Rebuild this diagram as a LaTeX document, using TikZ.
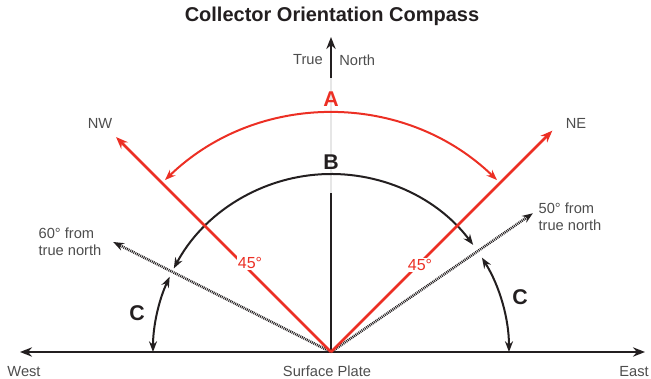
\documentclass[tikz,border=0pt]{standalone}
\usepackage{fontspec}
\setmainfont{Liberation Sans}
\usetikzlibrary{arrows.meta,positioning}
\definecolor{ink}{HTML}{231F20}
\definecolor{signal}{HTML}{EC2F24}
\definecolor{mute}{HTML}{4D4D4D}
\definecolor{rail}{HTML}{E6E6E6}

\begin{document}
\begin{tikzpicture}[x=0.75pt, y=0.75pt,
      tag/.style={font=\fontsize{11}{13}\selectfont, text=mute, inner sep=1pt, align=left},
      letter/.style={font=\fontsize{16}{18}\selectfont\bfseries, inner sep=0pt},
      axis/.style={-{Stealth[length=9pt,width=7pt]}, line width=2.2pt, color=ink},
      ray/.style={-{Stealth[length=9pt,width=7pt]}, line width=2pt, color=signal},
      hint/.style={-{Stealth[length=8pt,width=6pt]}, line width=2pt, color=ink, dash pattern=on 0.7pt off 0.7pt},
      sweep/.style={{Stealth[length=8pt,width=6pt]}-{Stealth[length=8pt,width=6pt]}, line width=1.5pt}]
    \useasboundingbox (-331,-27) rectangle (320,352);
    % base points
    \coordinate (plate) at (0,0);
    \coordinate (west) at (-311,0);
    \coordinate (east) at (314,0);
    \coordinate (zenith) at (0,159);
    \coordinate (railtop) at (0,274);
    \coordinate (north) at (0,315);
    \coordinate (needle) at (0,292);
    \coordinate (nw) at (135:304);
    \coordinate (ne) at (45:313);
    \coordinate (sixty) at (153.2:244);
    \coordinate (fifty) at (34.5:245);
    \coordinate (aR) at (46:239);
    \coordinate (bR) at (37:178);
    \coordinate (cW) at (180:178);
    \coordinate (cE) at (0:178);
    % true north
    \draw[line width=1.6pt, rail] (zenith) -- (railtop);
    \draw[line width=2.2pt, ink] (plate) -- (zenith);
    \draw[axis] (railtop) -- (north);
    \node[tag, left=5pt of needle] (truetag) {True};
    \node[tag, right=5pt of needle] (northtag) {North};
    % surface plate
    \draw[axis, {Stealth[length=9pt,width=7pt]}-{Stealth[length=9pt,width=7pt]}] (west) -- (east);
    \node[tag] (westtag) at (-307,-20) {West};
    \node[tag] (platetag) at (-4,-19) {Surface Plate};
    \node[tag] (easttag) at (303,-20) {East};
    % dotted limits
    \draw[hint] (plate) -- (sixty);
    \draw[hint] (plate) -- (fifty);
    \node[tag, anchor=west] (sixtytag) at (-294,110) {60° from\\true north};
    \node[tag, anchor=west] (fiftytag) at (206,135) {50° from\\true north};
    % arcs
    \draw[sweep, ink] (bR) arc[start angle=37, end angle=152, radius=178];
    \draw[sweep, ink] (cW) arc[start angle=180, end angle=155, radius=178];
    \draw[sweep, ink] (cE) arc[start angle=0, end angle=32, radius=178];
    \draw[sweep, signal] (aR) arc[start angle=46, end angle=134, radius=239];
    % NW / NE
    \draw[ray] (plate) -- (nw);
    \draw[ray] (plate) -- (ne);
    \node[tag] (nwtag) at (-231,229) {NW};
    \node[tag] (netag) at (245,229) {NE};
    \node[tag, text=signal, fill=white, font=\fontsize{12}{14}\selectfont] (nwdeg) at (-81,89) {45°};
    \node[tag, text=signal, fill=white, font=\fontsize{12}{14}\selectfont] (nedeg) at (89,87) {45°};
    % letters
    \node[letter, text=signal] (alabel) at (0,253) {A};
    \node[letter, text=ink] (blabel) at (0,190) {B};
    \node[letter, text=ink] (cwlabel) at (-194,39) {C};
    \node[letter, text=ink] (celabel) at (189,55) {C};
    \node[font=\fontsize{15}{18}\selectfont\bfseries, text=ink] (title) at (1,336) {Collector Orientation Compass};
  \end{tikzpicture}
\end{document}
